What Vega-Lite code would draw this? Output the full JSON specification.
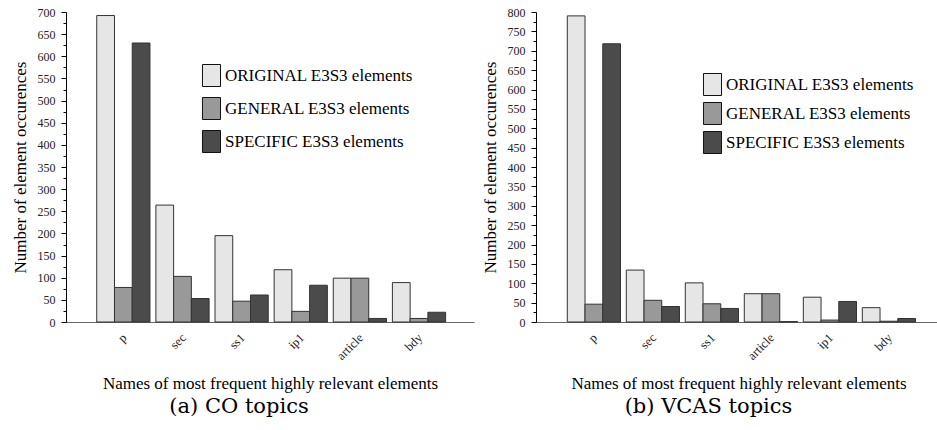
{
  "$schema": "https://vega.github.io/schema/vega-lite/v6.json",
  "autosize": {"type": "pad"},
  "padding": {"left": 11, "top": 6, "right": 0, "bottom": 0},
  "background": "white",
  "bounds": "flush",
  "spacing": 62,
  "config": {
    "view": {"stroke": null},
    "font": "Liberation Serif",
    "axis": {"labelFont": "Liberation Serif", "titleFont": "Liberation Serif", "titleFontWeight": "normal", "grid": false},
    "legend": {"labelFont": "Liberation Serif", "labelLimit": 0},
    "title": {"font": "DejaVu Serif", "fontWeight": "normal"}
  },
  "datasets": {
    "co": [
      {"element": "p", "type": "ORIGINAL E3S3 elements", "count": 692},
      {"element": "p", "type": "GENERAL E3S3 elements", "count": 78},
      {"element": "p", "type": "SPECIFIC E3S3 elements", "count": 630},
      {"element": "sec", "type": "ORIGINAL E3S3 elements", "count": 264},
      {"element": "sec", "type": "GENERAL E3S3 elements", "count": 103},
      {"element": "sec", "type": "SPECIFIC E3S3 elements", "count": 53},
      {"element": "ss1", "type": "ORIGINAL E3S3 elements", "count": 195},
      {"element": "ss1", "type": "GENERAL E3S3 elements", "count": 47},
      {"element": "ss1", "type": "SPECIFIC E3S3 elements", "count": 61},
      {"element": "ip1", "type": "ORIGINAL E3S3 elements", "count": 118},
      {"element": "ip1", "type": "GENERAL E3S3 elements", "count": 24},
      {"element": "ip1", "type": "SPECIFIC E3S3 elements", "count": 83},
      {"element": "article", "type": "ORIGINAL E3S3 elements", "count": 99},
      {"element": "article", "type": "GENERAL E3S3 elements", "count": 99},
      {"element": "article", "type": "SPECIFIC E3S3 elements", "count": 8},
      {"element": "bdy", "type": "ORIGINAL E3S3 elements", "count": 89},
      {"element": "bdy", "type": "GENERAL E3S3 elements", "count": 8},
      {"element": "bdy", "type": "SPECIFIC E3S3 elements", "count": 22}
    ],
    "vcas": [
      {"element": "p", "type": "ORIGINAL E3S3 elements", "count": 790},
      {"element": "p", "type": "GENERAL E3S3 elements", "count": 46},
      {"element": "p", "type": "SPECIFIC E3S3 elements", "count": 718},
      {"element": "sec", "type": "ORIGINAL E3S3 elements", "count": 134},
      {"element": "sec", "type": "GENERAL E3S3 elements", "count": 56},
      {"element": "sec", "type": "SPECIFIC E3S3 elements", "count": 40},
      {"element": "ss1", "type": "ORIGINAL E3S3 elements", "count": 101},
      {"element": "ss1", "type": "GENERAL E3S3 elements", "count": 47},
      {"element": "ss1", "type": "SPECIFIC E3S3 elements", "count": 35},
      {"element": "article", "type": "ORIGINAL E3S3 elements", "count": 73},
      {"element": "article", "type": "GENERAL E3S3 elements", "count": 73},
      {"element": "article", "type": "SPECIFIC E3S3 elements", "count": 1},
      {"element": "ip1", "type": "ORIGINAL E3S3 elements", "count": 64},
      {"element": "ip1", "type": "GENERAL E3S3 elements", "count": 5},
      {"element": "ip1", "type": "SPECIFIC E3S3 elements", "count": 53},
      {"element": "bdy", "type": "ORIGINAL E3S3 elements", "count": 37},
      {"element": "bdy", "type": "GENERAL E3S3 elements", "count": 2},
      {"element": "bdy", "type": "SPECIFIC E3S3 elements", "count": 9}
    ]
  },
  "resolve": {"scale": {"color": "independent", "x": "independent", "y": "independent"}, "legend": {"color": "independent"}},
  "hconcat": [
    {
      "width": 408,
      "height": 310,
      "data": {"name": "co"},
      "title": {"text": "(a) CO topics", "orient": "bottom", "font": "DejaVu Serif", "fontSize": 21, "color": "black", "dx": -31, "offset": 5, "anchor": "middle"},
      "mark": {"type": "bar", "stroke": "#333", "strokeWidth": 1},
      "encoding": {
        "x": {
          "field": "element", "type": "nominal", "sort": null,
          "scale": {"paddingInner": 0.1, "paddingOuter": 0.5, "align": 0.52},
          "axis": {"title": "Names of most frequent highly relevant elements", "titleFont": "Liberation Serif", "titleFontSize": 17, "titleColor": "black", "titleY": 66, "titleBaseline": "alphabetic", "labelAngle": 315, "labelFont": "Liberation Serif", "labelFontSize": 12.5, "labelColor": "#222", "ticks": false, "labelPadding": 9, "labelOffset": -3, "domainColor": "#666", "domainWidth": 1.2}
        },
        "xOffset": {"field": "type", "type": "nominal", "sort": ["ORIGINAL E3S3 elements", "GENERAL E3S3 elements", "SPECIFIC E3S3 elements"]},
        "y": {
          "field": "count", "type": "quantitative",
          "scale": {"domain": [0, 700], "nice": false},
          "axis": {
            "title": "Number of element occurences", "titleFont": "Liberation Serif", "titleFontSize": 17, "titleColor": "black", "titlePadding": 8,
            "values": [0,25,50,75,100,125,150,175,200,225,250,275,300,325,350,375,400,425,450,475,500,525,550,575,600,625,650,675,700],
            "labelExpr": "datum.value % 50 === 0 ? datum.label : ''",
            "tickSize": {"condition": {"test": "datum.value % 50 === 0", "value": 5}, "value": 3},
            "labelFont": "Liberation Serif", "labelFontSize": 12, "labelColor": "#222", "labelPadding": 6, "tickColor": "black", "domainColor": "black", "labelOverlap": false
          }
        },
        "color": {
          "field": "type", "type": "nominal",
          "scale": {"domain": ["ORIGINAL E3S3 elements", "GENERAL E3S3 elements", "SPECIFIC E3S3 elements"], "range": ["#e6e6e6", "#999999", "#4b4b4b"]},
          "legend": {"title": null, "orient": "none", "legendX": 134, "legendY": 52, "symbolType": "M-0.82,-1H0.82V1H-0.82Z", "symbolSize": 484, "symbolStrokeColor": "#111", "symbolStrokeWidth": 1, "labelFont": "Liberation Serif", "labelFontSize": 17, "labelColor": "black", "labelOffset": 2, "labelLimit": 0, "rowPadding": 6, "padding": 0}
        }
      }
    },
    {
      "width": 405,
      "height": 310,
      "data": {"name": "vcas"},
      "title": {"text": "(b) VCAS topics", "orient": "bottom", "font": "DejaVu Serif", "fontSize": 21, "color": "black", "dx": -30, "offset": 5, "anchor": "middle"},
      "mark": {"type": "bar", "stroke": "#333", "strokeWidth": 1},
      "encoding": {
        "x": {
          "field": "element", "type": "nominal", "sort": null,
          "scale": {"paddingInner": 0.1, "paddingOuter": 0.482, "align": 0.55},
          "axis": {"title": "Names of most frequent highly relevant elements", "titleFont": "Liberation Serif", "titleFontSize": 17, "titleColor": "black", "titleY": 66, "titleBaseline": "alphabetic", "labelAngle": 315, "labelFont": "Liberation Serif", "labelFontSize": 12.5, "labelColor": "#222", "ticks": false, "labelPadding": 9, "labelOffset": -3, "domainColor": "#666", "domainWidth": 1.2}
        },
        "xOffset": {"field": "type", "type": "nominal", "sort": ["ORIGINAL E3S3 elements", "GENERAL E3S3 elements", "SPECIFIC E3S3 elements"]},
        "y": {
          "field": "count", "type": "quantitative",
          "scale": {"domain": [0, 800], "nice": false},
          "axis": {
            "title": "Number of element occurences", "titleFont": "Liberation Serif", "titleFontSize": 17, "titleColor": "black", "titlePadding": 8,
            "values": [0,25,50,75,100,125,150,175,200,225,250,275,300,325,350,375,400,425,450,475,500,525,550,575,600,625,650,675,700,725,750,775,800],
            "labelExpr": "datum.value % 50 === 0 ? datum.label : ''",
            "tickSize": {"condition": {"test": "datum.value % 50 === 0", "value": 5}, "value": 3},
            "labelFont": "Liberation Serif", "labelFontSize": 12, "labelColor": "#222", "labelPadding": 6, "tickColor": "black", "domainColor": "black", "labelOverlap": false
          }
        },
        "color": {
          "field": "type", "type": "nominal",
          "scale": {"domain": ["ORIGINAL E3S3 elements", "GENERAL E3S3 elements", "SPECIFIC E3S3 elements"], "range": ["#e6e6e6", "#999999", "#4b4b4b"]},
          "legend": {"title": null, "orient": "none", "legendX": 165, "legendY": 61, "symbolType": "M-0.82,-1H0.82V1H-0.82Z", "symbolSize": 484, "symbolStrokeColor": "#111", "symbolStrokeWidth": 1, "labelFont": "Liberation Serif", "labelFontSize": 17, "labelColor": "black", "labelOffset": 2, "labelLimit": 0, "rowPadding": 2, "padding": 0}
        }
      }
    }
  ]
}
